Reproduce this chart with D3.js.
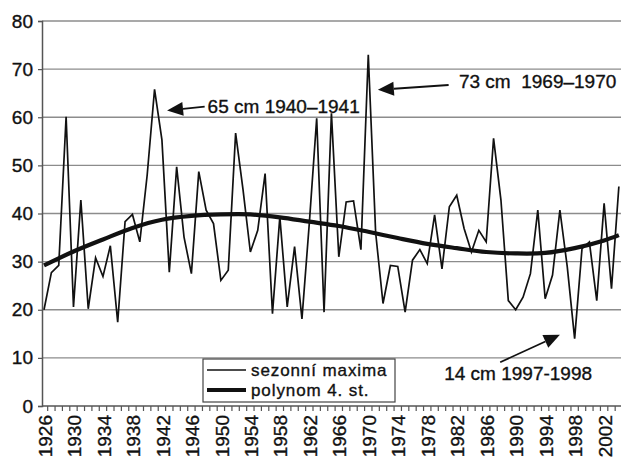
<!DOCTYPE html>
<html><head><meta charset="utf-8">
<script src="https://cdn.jsdelivr.net/npm/d3@7"></script>
<style>
html,body{margin:0;padding:0;background:#fff;}
svg{display:block;font-family:"Liberation Sans",Arial,sans-serif;}
svg text{stroke:#111;stroke-width:0.35px;}
</style></head>
<body>
<svg id="c" width="621" height="457"></svg>
<script>
// ---- data ----
const years = d3.range(1926, 2005);
const maxima = [
  20.0, 27.7, 29.2, 60.1, 20.6, 42.8, 20.2, 30.8, 26.9, 33.3,   // 1926-1935
  17.4, 38.3, 39.8, 34.1, 48.0, 65.8, 55.3, 27.8, 49.7, 35.1,   // 1936-1945
  27.5, 48.7, 40.7, 37.9, 26.1, 28.2, 56.7, 45.0, 32.0, 36.5,   // 1946-1955
  48.3, 19.2, 39.3, 20.6, 33.1, 18.1, 38.0, 59.8, 19.5, 60.8,   // 1956-1965
  31.0, 42.4, 42.6, 32.5, 73.0, 36.0, 21.3, 29.2, 29.0, 19.5,   // 1966-1975
  30.3, 32.5, 29.6, 39.7, 28.5, 41.4, 43.8, 36.9, 32.0, 36.5,   // 1976-1985
  34.1, 55.6, 42.8, 21.9, 20.0, 22.6, 27.5, 40.7, 22.3, 27.2,   // 1986-1995
  40.7, 28.9, 14.0, 32.7, 34.1, 21.9, 42.1, 24.4, 45.6          // 1996-2004
];
const trendYears  = [1926, 1930, 1934, 1938, 1942, 1946, 1950, 1954, 1958, 1962, 1966, 1970, 1974, 1978, 1982, 1986, 1990, 1994, 1998, 2002, 2004];
const trendValues = [29.2, 32.1, 34.6, 37.0, 38.7, 39.5, 39.8, 39.8, 39.2, 38.3, 37.4, 36.2, 34.9, 33.7, 32.8, 32.0, 31.7, 31.8, 32.8, 34.4, 35.5];
const yTicks = [0, 10, 20, 30, 40, 50, 60, 70, 80];
const xTickLabels = d3.range(1926, 2003, 4);
const seriesNames = ["sezonní maxima", "polynom 4. st."];
// annotations: text, text anchor point (year, value), arrow tail, arrow tip
const notes = [
  {text: "65 cm 1940\u20131941", tx: 1948.2, ty: 60.9, from: [1947.8, 62.2], to: [1942.7, 61.4]},
  {text: "73 cm  1969\u20131970", tx: 1982.3, ty: 66.1, from: [1980.9, 66.7], to: [1971.3, 65.7]},
  {text: "14 cm 1997-1998",      tx: 1980.3, ty: 5.4,  from: [1987.9, 9.1],  to: [1996.0, 14.8]}
];

// ---- scales ----
const svg = d3.select("#c");
const plotLeft = 42, plotRight = 621;
const x = d3.scaleLinear().domain([1926, 2004]).range([44, 44 + 78 * 7.37]);
const y = d3.scaleLinear().domain([0, 80]).range([406, 21]);
const step = x(1927) - x(1926);

// gridlines
svg.append("g").selectAll("line").data(yTicks.filter(d => d > 0)).join("line")
  .attr("x1", plotLeft).attr("x2", plotRight)
  .attr("y1", d => y(d)).attr("y2", d => y(d))
  .attr("stroke", "#8c8c8c").attr("stroke-width", 1.3);

// y axis
const yAxis = d3.axisLeft(y).tickValues(yTicks).tickSize(4).tickPadding(5);
const gy = svg.append("g").attr("transform", `translate(${plotLeft},0)`).call(yAxis);
gy.select(".domain").attr("stroke", "#555").attr("stroke-width", 1.5);
gy.selectAll(".tick line").attr("stroke", "#555").attr("stroke-width", 1.2);
gy.selectAll(".tick text").attr("font-size", 19).attr("fill", "#111")
  .attr("font-family", "Liberation Sans, Arial, sans-serif");

// x axis line
svg.append("line").attr("x1", plotLeft).attr("x2", plotRight)
  .attr("y1", y(0)).attr("y2", y(0)).attr("stroke", "#555").attr("stroke-width", 1.5);
// x tick marks between categories
svg.append("g").selectAll("line").data(years).join("line")
  .attr("x1", d => x(d) + step / 2).attr("x2", d => x(d) + step / 2)
  .attr("y1", y(0)).attr("y2", y(0) + 5)
  .attr("stroke", "#555").attr("stroke-width", 1.2);
// x labels
svg.append("g").selectAll("text").data(xTickLabels).join("text")
  .attr("transform", d => `translate(${x(d) + 1},${y(0) + 9}) rotate(-90)`)
  .attr("text-anchor", "end").attr("dy", "0.35em")
  .attr("font-size", 19).attr("fill", "#111")
  .text(d => d);

// data line
const pts = years.map((yr, i) => [yr, maxima[i]]);
svg.append("path").datum(pts)
  .attr("d", d3.line().x(d => x(d[0])).y(d => y(d[1])))
  .attr("fill", "none").attr("stroke", "#111").attr("stroke-width", 1.7)
  .attr("stroke-linejoin", "miter");

// trend line
const tpts = trendYears.map((yr, i) => [yr, trendValues[i]]);
svg.append("path").datum(tpts)
  .attr("d", d3.line().x(d => x(d[0])).y(d => y(d[1])).curve(d3.curveCatmullRom))
  .attr("fill", "none").attr("stroke", "#111").attr("stroke-width", 4.2);

// annotations
notes.forEach(n => {
  const x1 = x(n.from[0]), y1 = y(n.from[1]), x2 = x(n.to[0]), y2 = y(n.to[1]);
  const ang = Math.atan2(y2 - y1, x2 - x1);
  const L = 16, W = 7;
  const bx = x2 - L * Math.cos(ang), by = y2 - L * Math.sin(ang);
  svg.append("line").attr("x1", x1).attr("y1", y1).attr("x2", bx).attr("y2", by)
    .attr("stroke", "#111").attr("stroke-width", 1.8);
  const p = [[x2, y2],
    [bx + W * Math.sin(ang), by - W * Math.cos(ang)],
    [bx - W * Math.sin(ang), by + W * Math.cos(ang)]];
  svg.append("path").attr("d", "M" + p.map(q => q.join(",")).join("L") + "Z").attr("fill", "#111");
  svg.append("text").attr("x", x(n.tx)).attr("y", y(n.ty))
    .attr("font-size", 19).attr("fill", "#111").style("white-space", "pre")
    .text(n.text);
});

// legend
const lg = svg.append("g").attr("transform", "translate(203,359)");
lg.append("rect").attr("width", 192).attr("height", 43)
  .attr("fill", "#fff").attr("stroke", "#444").attr("stroke-width", 1.2);
[0, 1].forEach(i => {
  const yy = 11 + i * 20;
  lg.append("line").attr("x1", 4).attr("x2", 43).attr("y1", yy).attr("y2", yy)
    .attr("stroke", "#111").attr("stroke-width", i === 0 ? 1.6 : 4.2);
  lg.append("text").attr("x", 48).attr("y", yy).attr("dy", "0.35em")
    .attr("font-size", 17).attr("letter-spacing", "0.9px").attr("fill", "#111")
    .text(seriesNames[i]);
});
</script>
</body></html>
